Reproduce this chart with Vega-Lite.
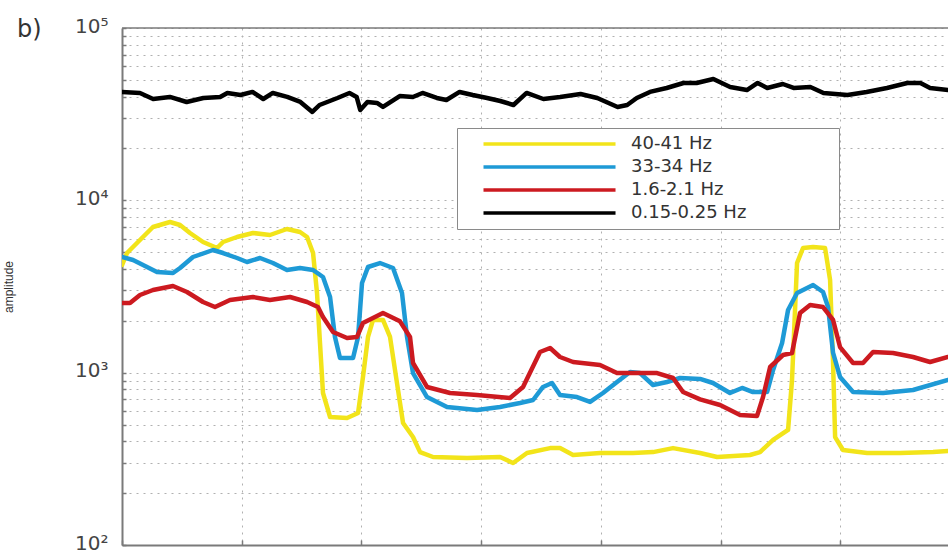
{
  "$schema": "https://vega.github.io/schema/vega-lite/v6.json",
  "width": 826,
  "height": 517,
  "autosize": {"type": "none"},
  "padding": {"left": 122, "top": 28, "right": 0, "bottom": 10},
  "background": "white",
  "config": {"view": {"stroke": null}, "font": "DejaVu Sans"},
  "title": {"text": "b)", "anchor": "start", "frame": "group", "dx": -105, "dy": 49, "fontSize": 24, "fontWeight": "normal", "font": "DejaVu Sans", "color": "#333333", "baseline": "alphabetic"},
  "layer": [
    {
      "data": {"values": [{}]},
      "mark": {"type": "rule", "color": "#7a7a7a", "strokeWidth": 1.5},
      "encoding": {"y": {"datum": 100000, "type": "quantitative"}}
    },
    {
      "data": {"values": [
        {"b": "40-41 Hz", "t": 0, "a": 4214},
        {"b": "40-41 Hz", "t": 0.042, "a": 4947},
        {"b": "40-41 Hz", "t": 0.150, "a": 5886},
        {"b": "40-41 Hz", "t": 0.259, "a": 7003},
        {"b": "40-41 Hz", "t": 0.401, "a": 7487},
        {"b": "40-41 Hz", "t": 0.485, "a": 7192},
        {"b": "40-41 Hz", "t": 0.568, "a": 6463},
        {"b": "40-41 Hz", "t": 0.677, "a": 5731},
        {"b": "40-41 Hz", "t": 0.794, "a": 5289},
        {"b": "40-41 Hz", "t": 0.844, "a": 5731},
        {"b": "40-41 Hz", "t": 0.961, "a": 6127},
        {"b": "40-41 Hz", "t": 1.094, "a": 6463},
        {"b": "40-41 Hz", "t": 1.236, "a": 6293},
        {"b": "40-41 Hz", "t": 1.378, "a": 6818},
        {"b": "40-41 Hz", "t": 1.487, "a": 6550},
        {"b": "40-41 Hz", "t": 1.546, "a": 6127},
        {"b": "40-41 Hz", "t": 1.596, "a": 4947},
        {"b": "40-41 Hz", "t": 1.629, "a": 2900},
        {"b": "40-41 Hz", "t": 1.654, "a": 1486},
        {"b": "40-41 Hz", "t": 1.679, "a": 762},
        {"b": "40-41 Hz", "t": 1.738, "a": 553},
        {"b": "40-41 Hz", "t": 1.880, "a": 546},
        {"b": "40-41 Hz", "t": 1.972, "a": 583},
        {"b": "40-41 Hz", "t": 2.013, "a": 944},
        {"b": "40-41 Hz", "t": 2.055, "a": 1611},
        {"b": "40-41 Hz", "t": 2.097, "a": 2022},
        {"b": "40-41 Hz", "t": 2.180, "a": 2022},
        {"b": "40-41 Hz", "t": 2.239, "a": 1611},
        {"b": "40-41 Hz", "t": 2.297, "a": 871},
        {"b": "40-41 Hz", "t": 2.348, "a": 510},
        {"b": "40-41 Hz", "t": 2.431, "a": 423},
        {"b": "40-41 Hz", "t": 2.490, "a": 346},
        {"b": "40-41 Hz", "t": 2.598, "a": 324},
        {"b": "40-41 Hz", "t": 2.882, "a": 320},
        {"b": "40-41 Hz", "t": 3.158, "a": 324},
        {"b": "40-41 Hz", "t": 3.267, "a": 299},
        {"b": "40-41 Hz", "t": 3.383, "a": 342},
        {"b": "40-41 Hz", "t": 3.576, "a": 365},
        {"b": "40-41 Hz", "t": 3.659, "a": 365},
        {"b": "40-41 Hz", "t": 3.768, "a": 333},
        {"b": "40-41 Hz", "t": 3.993, "a": 342},
        {"b": "40-41 Hz", "t": 4.269, "a": 342},
        {"b": "40-41 Hz", "t": 4.436, "a": 346},
        {"b": "40-41 Hz", "t": 4.603, "a": 365},
        {"b": "40-41 Hz", "t": 4.829, "a": 342},
        {"b": "40-41 Hz", "t": 4.971, "a": 324},
        {"b": "40-41 Hz", "t": 5.246, "a": 333},
        {"b": "40-41 Hz", "t": 5.330, "a": 346},
        {"b": "40-41 Hz", "t": 5.439, "a": 407},
        {"b": "40-41 Hz", "t": 5.564, "a": 465},
        {"b": "40-41 Hz", "t": 5.597, "a": 907},
        {"b": "40-41 Hz", "t": 5.639, "a": 4328},
        {"b": "40-41 Hz", "t": 5.689, "a": 5289},
        {"b": "40-41 Hz", "t": 5.773, "a": 5360},
        {"b": "40-41 Hz", "t": 5.873, "a": 5289},
        {"b": "40-41 Hz", "t": 5.915, "a": 3449},
        {"b": "40-41 Hz", "t": 5.940, "a": 1138},
        {"b": "40-41 Hz", "t": 5.957, "a": 423},
        {"b": "40-41 Hz", "t": 6.023, "a": 356},
        {"b": "40-41 Hz", "t": 6.224, "a": 342},
        {"b": "40-41 Hz", "t": 6.500, "a": 342},
        {"b": "40-41 Hz", "t": 6.775, "a": 346},
        {"b": "40-41 Hz", "t": 6.900, "a": 351},

        {"b": "33-34 Hz", "t": 0, "a": 4690},
        {"b": "33-34 Hz", "t": 0.092, "a": 4506},
        {"b": "33-34 Hz", "t": 0.209, "a": 4104},
        {"b": "33-34 Hz", "t": 0.292, "a": 3838},
        {"b": "33-34 Hz", "t": 0.426, "a": 3787},
        {"b": "33-34 Hz", "t": 0.485, "a": 4050},
        {"b": "33-34 Hz", "t": 0.593, "a": 4690},
        {"b": "33-34 Hz", "t": 0.760, "a": 5150},
        {"b": "33-34 Hz", "t": 0.844, "a": 4947},
        {"b": "33-34 Hz", "t": 0.961, "a": 4628},
        {"b": "33-34 Hz", "t": 1.044, "a": 4386},
        {"b": "33-34 Hz", "t": 1.153, "a": 4628},
        {"b": "33-34 Hz", "t": 1.261, "a": 4328},
        {"b": "33-34 Hz", "t": 1.378, "a": 3942},
        {"b": "33-34 Hz", "t": 1.487, "a": 4050},
        {"b": "33-34 Hz", "t": 1.596, "a": 3942},
        {"b": "33-34 Hz", "t": 1.679, "a": 3591},
        {"b": "33-34 Hz", "t": 1.738, "a": 2748},
        {"b": "33-34 Hz", "t": 1.779, "a": 1611},
        {"b": "33-34 Hz", "t": 1.821, "a": 1217},
        {"b": "33-34 Hz", "t": 1.930, "a": 1217},
        {"b": "33-34 Hz", "t": 1.972, "a": 1611},
        {"b": "33-34 Hz", "t": 2.005, "a": 3314},
        {"b": "33-34 Hz", "t": 2.055, "a": 4104},
        {"b": "33-34 Hz", "t": 2.155, "a": 4328},
        {"b": "33-34 Hz", "t": 2.264, "a": 4050},
        {"b": "33-34 Hz", "t": 2.339, "a": 2900},
        {"b": "33-34 Hz", "t": 2.381, "a": 1611},
        {"b": "33-34 Hz", "t": 2.431, "a": 995},
        {"b": "33-34 Hz", "t": 2.548, "a": 722},
        {"b": "33-34 Hz", "t": 2.715, "a": 632},
        {"b": "33-34 Hz", "t": 2.966, "a": 607},
        {"b": "33-34 Hz", "t": 3.158, "a": 632},
        {"b": "33-34 Hz", "t": 3.325, "a": 667},
        {"b": "33-34 Hz", "t": 3.434, "a": 694},
        {"b": "33-34 Hz", "t": 3.517, "a": 826},
        {"b": "33-34 Hz", "t": 3.592, "a": 871},
        {"b": "33-34 Hz", "t": 3.659, "a": 742},
        {"b": "33-34 Hz", "t": 3.801, "a": 722},
        {"b": "33-34 Hz", "t": 3.910, "a": 676},
        {"b": "33-34 Hz", "t": 4.018, "a": 762},
        {"b": "33-34 Hz", "t": 4.135, "a": 883},
        {"b": "33-34 Hz", "t": 4.244, "a": 1009},
        {"b": "33-34 Hz", "t": 4.327, "a": 995},
        {"b": "33-34 Hz", "t": 4.436, "a": 848},
        {"b": "33-34 Hz", "t": 4.553, "a": 883},
        {"b": "33-34 Hz", "t": 4.662, "a": 931},
        {"b": "33-34 Hz", "t": 4.829, "a": 920},
        {"b": "33-34 Hz", "t": 4.937, "a": 871},
        {"b": "33-34 Hz", "t": 5.079, "a": 762},
        {"b": "33-34 Hz", "t": 5.180, "a": 815},
        {"b": "33-34 Hz", "t": 5.271, "a": 772},
        {"b": "33-34 Hz", "t": 5.389, "a": 772},
        {"b": "33-34 Hz", "t": 5.439, "a": 1036},
        {"b": "33-34 Hz", "t": 5.514, "a": 1486},
        {"b": "33-34 Hz", "t": 5.564, "a": 2310},
        {"b": "33-34 Hz", "t": 5.639, "a": 2900},
        {"b": "33-34 Hz", "t": 5.773, "a": 3227},
        {"b": "33-34 Hz", "t": 5.856, "a": 2939},
        {"b": "33-34 Hz", "t": 5.898, "a": 2404},
        {"b": "33-34 Hz", "t": 5.940, "a": 1301},
        {"b": "33-34 Hz", "t": 5.998, "a": 944},
        {"b": "33-34 Hz", "t": 6.107, "a": 772},
        {"b": "33-34 Hz", "t": 6.358, "a": 762},
        {"b": "33-34 Hz", "t": 6.608, "a": 793},
        {"b": "33-34 Hz", "t": 6.900, "a": 907},

        {"b": "1.6-2.1 Hz", "t": 0, "a": 2536},
        {"b": "1.6-2.1 Hz", "t": 0.067, "a": 2536},
        {"b": "1.6-2.1 Hz", "t": 0.150, "a": 2822},
        {"b": "1.6-2.1 Hz", "t": 0.259, "a": 3018},
        {"b": "1.6-2.1 Hz", "t": 0.426, "a": 3184},
        {"b": "1.6-2.1 Hz", "t": 0.543, "a": 2939},
        {"b": "1.6-2.1 Hz", "t": 0.677, "a": 2570},
        {"b": "1.6-2.1 Hz", "t": 0.777, "a": 2404},
        {"b": "1.6-2.1 Hz", "t": 0.902, "a": 2640},
        {"b": "1.6-2.1 Hz", "t": 1.094, "a": 2748},
        {"b": "1.6-2.1 Hz", "t": 1.236, "a": 2640},
        {"b": "1.6-2.1 Hz", "t": 1.404, "a": 2748},
        {"b": "1.6-2.1 Hz", "t": 1.546, "a": 2570},
        {"b": "1.6-2.1 Hz", "t": 1.637, "a": 2404},
        {"b": "1.6-2.1 Hz", "t": 1.679, "a": 2104},
        {"b": "1.6-2.1 Hz", "t": 1.763, "a": 1721},
        {"b": "1.6-2.1 Hz", "t": 1.880, "a": 1589},
        {"b": "1.6-2.1 Hz", "t": 1.963, "a": 1611},
        {"b": "1.6-2.1 Hz", "t": 2.013, "a": 1942},
        {"b": "1.6-2.1 Hz", "t": 2.180, "a": 2219},
        {"b": "1.6-2.1 Hz", "t": 2.322, "a": 1985},
        {"b": "1.6-2.1 Hz", "t": 2.406, "a": 1611},
        {"b": "1.6-2.1 Hz", "t": 2.431, "a": 1138},
        {"b": "1.6-2.1 Hz", "t": 2.548, "a": 826},
        {"b": "1.6-2.1 Hz", "t": 2.740, "a": 762},
        {"b": "1.6-2.1 Hz", "t": 2.966, "a": 742},
        {"b": "1.6-2.1 Hz", "t": 3.241, "a": 713},
        {"b": "1.6-2.1 Hz", "t": 3.350, "a": 826},
        {"b": "1.6-2.1 Hz", "t": 3.492, "a": 1318},
        {"b": "1.6-2.1 Hz", "t": 3.576, "a": 1390},
        {"b": "1.6-2.1 Hz", "t": 3.659, "a": 1233},
        {"b": "1.6-2.1 Hz", "t": 3.768, "a": 1153},
        {"b": "1.6-2.1 Hz", "t": 3.993, "a": 1108},
        {"b": "1.6-2.1 Hz", "t": 4.135, "a": 995},
        {"b": "1.6-2.1 Hz", "t": 4.269, "a": 995},
        {"b": "1.6-2.1 Hz", "t": 4.470, "a": 995},
        {"b": "1.6-2.1 Hz", "t": 4.603, "a": 931},
        {"b": "1.6-2.1 Hz", "t": 4.687, "a": 772},
        {"b": "1.6-2.1 Hz", "t": 4.829, "a": 700},
        {"b": "1.6-2.1 Hz", "t": 4.996, "a": 649},
        {"b": "1.6-2.1 Hz", "t": 5.163, "a": 568},
        {"b": "1.6-2.1 Hz", "t": 5.305, "a": 561},
        {"b": "1.6-2.1 Hz", "t": 5.355, "a": 722},
        {"b": "1.6-2.1 Hz", "t": 5.414, "a": 1079},
        {"b": "1.6-2.1 Hz", "t": 5.522, "a": 1266},
        {"b": "1.6-2.1 Hz", "t": 5.597, "a": 1301},
        {"b": "1.6-2.1 Hz", "t": 5.664, "a": 2219},
        {"b": "1.6-2.1 Hz", "t": 5.748, "a": 2470},
        {"b": "1.6-2.1 Hz", "t": 5.856, "a": 2404},
        {"b": "1.6-2.1 Hz", "t": 5.940, "a": 2022},
        {"b": "1.6-2.1 Hz", "t": 5.998, "a": 1408},
        {"b": "1.6-2.1 Hz", "t": 6.107, "a": 1138},
        {"b": "1.6-2.1 Hz", "t": 6.190, "a": 1138},
        {"b": "1.6-2.1 Hz", "t": 6.274, "a": 1318},
        {"b": "1.6-2.1 Hz", "t": 6.441, "a": 1301},
        {"b": "1.6-2.1 Hz", "t": 6.608, "a": 1233},
        {"b": "1.6-2.1 Hz", "t": 6.750, "a": 1153},
        {"b": "1.6-2.1 Hz", "t": 6.900, "a": 1233},

        {"b": "0.15-0.25 Hz", "t": 0, "a": 42560},
        {"b": "0.15-0.25 Hz", "t": 0.15, "a": 41980},
        {"b": "0.15-0.25 Hz", "t": 0.26, "a": 38730},
        {"b": "0.15-0.25 Hz", "t": 0.40, "a": 39800},
        {"b": "0.15-0.25 Hz", "t": 0.54, "a": 37220},
        {"b": "0.15-0.25 Hz", "t": 0.68, "a": 39260},
        {"b": "0.15-0.25 Hz", "t": 0.82, "a": 39800},
        {"b": "0.15-0.25 Hz", "t": 0.88, "a": 41980},
        {"b": "0.15-0.25 Hz", "t": 0.99, "a": 40850},
        {"b": "0.15-0.25 Hz", "t": 1.09, "a": 42560},
        {"b": "0.15-0.25 Hz", "t": 1.18, "a": 38730},
        {"b": "0.15-0.25 Hz", "t": 1.26, "a": 41980},
        {"b": "0.15-0.25 Hz", "t": 1.38, "a": 39800},
        {"b": "0.15-0.25 Hz", "t": 1.49, "a": 37220},
        {"b": "0.15-0.25 Hz", "t": 1.59, "a": 32570},
        {"b": "0.15-0.25 Hz", "t": 1.65, "a": 35740},
        {"b": "0.15-0.25 Hz", "t": 1.80, "a": 39260},
        {"b": "0.15-0.25 Hz", "t": 1.90, "a": 41980},
        {"b": "0.15-0.25 Hz", "t": 1.96, "a": 39800},
        {"b": "0.15-0.25 Hz", "t": 1.99, "a": 33430},
        {"b": "0.15-0.25 Hz", "t": 2.05, "a": 37220},
        {"b": "0.15-0.25 Hz", "t": 2.13, "a": 36720},
        {"b": "0.15-0.25 Hz", "t": 2.18, "a": 34820},
        {"b": "0.15-0.25 Hz", "t": 2.32, "a": 40300},
        {"b": "0.15-0.25 Hz", "t": 2.43, "a": 39800},
        {"b": "0.15-0.25 Hz", "t": 2.51, "a": 41980},
        {"b": "0.15-0.25 Hz", "t": 2.63, "a": 39260},
        {"b": "0.15-0.25 Hz", "t": 2.71, "a": 38200},
        {"b": "0.15-0.25 Hz", "t": 2.82, "a": 42560},
        {"b": "0.15-0.25 Hz", "t": 2.93, "a": 40850},
        {"b": "0.15-0.25 Hz", "t": 3.05, "a": 39260},
        {"b": "0.15-0.25 Hz", "t": 3.16, "a": 37700},
        {"b": "0.15-0.25 Hz", "t": 3.27, "a": 35740},
        {"b": "0.15-0.25 Hz", "t": 3.38, "a": 41980},
        {"b": "0.15-0.25 Hz", "t": 3.52, "a": 38730},
        {"b": "0.15-0.25 Hz", "t": 3.66, "a": 39800},
        {"b": "0.15-0.25 Hz", "t": 3.83, "a": 41400},
        {"b": "0.15-0.25 Hz", "t": 3.97, "a": 39260},
        {"b": "0.15-0.25 Hz", "t": 4.14, "a": 34820},
        {"b": "0.15-0.25 Hz", "t": 4.22, "a": 35740},
        {"b": "0.15-0.25 Hz", "t": 4.30, "a": 39260},
        {"b": "0.15-0.25 Hz", "t": 4.41, "a": 42560},
        {"b": "0.15-0.25 Hz", "t": 4.55, "a": 44870},
        {"b": "0.15-0.25 Hz", "t": 4.69, "a": 47970},
        {"b": "0.15-0.25 Hz", "t": 4.80, "a": 47970},
        {"b": "0.15-0.25 Hz", "t": 4.94, "a": 50580},
        {"b": "0.15-0.25 Hz", "t": 5.08, "a": 45470},
        {"b": "0.15-0.25 Hz", "t": 5.22, "a": 43650},
        {"b": "0.15-0.25 Hz", "t": 5.31, "a": 47970},
        {"b": "0.15-0.25 Hz", "t": 5.39, "a": 44870},
        {"b": "0.15-0.25 Hz", "t": 5.52, "a": 47320},
        {"b": "0.15-0.25 Hz", "t": 5.61, "a": 44870},
        {"b": "0.15-0.25 Hz", "t": 5.75, "a": 45470},
        {"b": "0.15-0.25 Hz", "t": 5.86, "a": 41980},
        {"b": "0.15-0.25 Hz", "t": 6.06, "a": 40850},
        {"b": "0.15-0.25 Hz", "t": 6.22, "a": 42560},
        {"b": "0.15-0.25 Hz", "t": 6.39, "a": 44870},
        {"b": "0.15-0.25 Hz", "t": 6.56, "a": 47970},
        {"b": "0.15-0.25 Hz", "t": 6.67, "a": 47970},
        {"b": "0.15-0.25 Hz", "t": 6.75, "a": 44870},
        {"b": "0.15-0.25 Hz", "t": 6.90, "a": 43650}
      ]},
      "mark": {"type": "line", "strokeWidth": 4.5, "strokeJoin": "round", "strokeCap": "round", "clip": true},
      "encoding": {
        "x": {"field": "t", "type": "quantitative",
          "scale": {"domain": [0, 6.9], "nice": false, "zero": false},
          "axis": {"values": [0, 1, 2, 3, 4, 5, 6], "labels": false, "title": null,
            "grid": true, "gridDash": [2, 5], "gridColor": "#b0b0b0", "gridWidth": 1,
            "domainColor": "#7a7a7a", "domainWidth": 2, "tickColor": "#7a7a7a", "tickSize": -5, "tickWidth": 1.5}},
        "y": {"field": "a", "type": "quantitative",
          "scale": {"type": "log", "domain": [100, 100000], "nice": false},
          "axis": {"values": [100, 200, 300, 400, 500, 600, 700, 800, 900, 1000, 2000, 3000, 4000, 5000, 6000, 7000, 8000, 9000, 10000, 20000, 30000, 40000, 50000, 60000, 70000, 80000, 90000, 100000],
            "labelExpr": "datum.value == 100 ? '10²' : datum.value == 1000 ? '10³' : datum.value == 10000 ? '10⁴' : datum.value == 100000 ? '10⁵' : ''",
            "labelFontSize": 20, "labelColor": "#444444", "labelFont": "DejaVu Sans", "labelPadding": 18, "labelOverlap": false, "labelOffset": -2,
            "grid": true, "gridDash": [2, 5], "gridColor": "#b0b0b0", "gridWidth": 1,
            "domainColor": "#7a7a7a", "domainWidth": 2, "tickColor": "#7a7a7a", "tickSize": -4, "tickWidth": 1.5,
            "title": "amplitude", "titleFont": "Liberation Sans", "titleFontSize": 12, "titleFontWeight": "normal", "titleColor": "#333333", "titleX": -107}},
        "color": {"field": "b", "type": "nominal",
          "scale": {"domain": ["40-41 Hz", "33-34 Hz", "1.6-2.1 Hz", "0.15-0.25 Hz"], "range": ["#f2e41a", "#1e9ad6", "#cc1a20", "#000000"]},
          "legend": {"orient": "none", "legendX": 335, "legendY": 100, "title": null,
            "symbolType": "M-17.5,0H1.36", "symbolSize": 196, "symbolStrokeWidth": 3.5,
            "labelFontSize": 18, "labelFont": "DejaVu Sans", "labelColor": "#333333", "labelOffset": 16, "labelLimit": 400,
            "labelExpr": "datum.label + ' ⠀⠀⠀⠀⠀⠀'",
            "rowPadding": 5, "padding": 7, "symbolOffset": 133,
            "strokeColor": "#8a8a8a", "fillColor": "white"}}
      }
    }
  ]
}
